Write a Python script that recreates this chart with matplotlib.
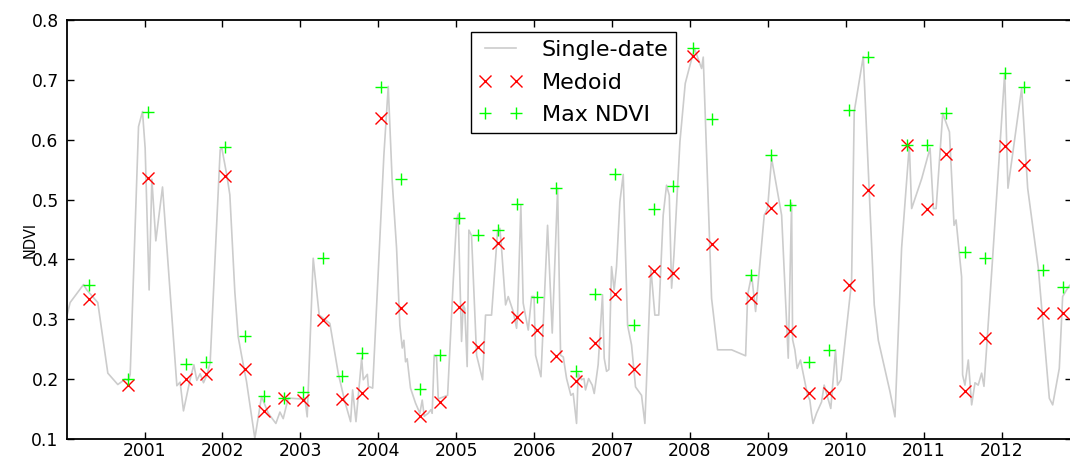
import numpy as np
import matplotlib.pyplot as plt
from datetime import date

# single-date NDVI series (decimal years)
single_t = [2000.003, 2000.045, 2000.217, 2000.259, 2000.40, 2000.529, 2000.657, 2000.751, 2000.794, 2000.816,
            2000.923, 2000.974, 2001.008, 2001.059, 2001.094, 2001.145, 2001.231, 2001.415, 2001.457, 2001.50,
            2001.586, 2001.633, 2001.671, 2001.714, 2001.757, 2001.80, 2001.842, 2001.971, 2001.992, 2002.056,
            2002.095, 2002.159, 2002.202, 2002.245, 2002.309, 2002.416, 2002.502, 2002.588, 2002.686, 2002.738,
            2002.78, 2002.844, 2002.887, 2002.994, 2003.058, 2003.088, 2003.165, 2003.242, 2003.379, 2003.486,
            2003.572, 2003.645, 2003.671, 2003.714, 2003.787, 2003.808, 2003.86, 2003.872, 2003.928, 2004.072,
            2004.128, 2004.179, 2004.235, 2004.277, 2004.308, 2004.329, 2004.35, 2004.371, 2004.414, 2004.478,
            2004.534, 2004.564, 2004.59, 2004.641, 2004.676, 2004.692, 2004.718, 2004.748, 2004.77, 2004.89,
            2004.962, 2005.005, 2005.026, 2005.069, 2005.09, 2005.11, 2005.141, 2005.163, 2005.197, 2005.262,
            2005.339, 2005.377, 2005.454, 2005.531, 2005.561, 2005.582, 2005.634, 2005.668, 2005.732, 2005.775,
            2005.788, 2005.83, 2005.86, 2005.925, 2005.968, 2006.0, 2006.019, 2006.088, 2006.173, 2006.233,
            2006.302, 2006.34, 2006.375, 2006.417, 2006.472, 2006.502, 2006.545, 2006.566, 2006.609, 2006.64,
            2006.66, 2006.7, 2006.746, 2006.772, 2006.822, 2006.878, 2006.9, 2006.93, 2006.96, 2006.994,
            2007.028, 2007.058, 2007.101, 2007.144, 2007.2, 2007.251, 2007.302, 2007.379, 2007.422, 2007.499,
            2007.55, 2007.6, 2007.657, 2007.7, 2007.735, 2007.765, 2007.795, 2007.872, 2007.94, 2008.018,
            2008.06, 2008.15, 2008.171, 2008.278, 2008.355, 2008.535, 2008.715, 2008.741, 2008.792, 2008.843,
            2008.954, 2008.997, 2009.048, 2009.177, 2009.262, 2009.305, 2009.318, 2009.347, 2009.377, 2009.419,
            2009.51, 2009.539, 2009.56, 2009.58, 2009.625, 2009.69, 2009.723, 2009.753, 2009.808, 2009.869,
            2009.895, 2009.938, 2010.075, 2010.109, 2010.225, 2010.366, 2010.418, 2010.568, 2010.632, 2010.717,
            2010.816, 2010.846, 2010.975, 2011.082, 2011.125, 2011.16, 2011.245, 2011.331, 2011.39, 2011.416,
            2011.487, 2011.5, 2011.53, 2011.573, 2011.616, 2011.659, 2011.7, 2011.744, 2011.774, 2011.808,
            2011.885, 2012.04, 2012.082, 2012.258, 2012.335, 2012.472, 2012.613, 2012.656, 2012.741, 2012.784,
            2012.857, 2012.9]
single_ndvi = [0.305, 0.328, 0.358, 0.349, 0.328, 0.21, 0.191, 0.200, 0.198, 0.208,
               0.622, 0.647, 0.586, 0.349, 0.534, 0.431, 0.521, 0.189, 0.195, 0.147,
               0.200, 0.224, 0.198, 0.209, 0.194, 0.207, 0.227, 0.583, 0.586, 0.541,
               0.508, 0.346, 0.271, 0.240, 0.196, 0.101, 0.171, 0.143, 0.126, 0.145,
               0.134, 0.168, 0.168, 0.167, 0.168, 0.137, 0.402, 0.307, 0.293, 0.21,
               0.162, 0.129, 0.182, 0.129, 0.235, 0.199, 0.208, 0.188, 0.185, 0.574,
               0.689, 0.53, 0.419, 0.29, 0.252, 0.265, 0.229, 0.234, 0.185, 0.16,
               0.143, 0.165, 0.138, 0.143, 0.149, 0.143, 0.24, 0.237, 0.167, 0.173,
               0.363, 0.466, 0.475, 0.263, 0.324, 0.318, 0.221, 0.449, 0.44, 0.24,
               0.199, 0.307, 0.307, 0.446, 0.452, 0.419, 0.324, 0.338, 0.313, 0.285,
               0.307, 0.491, 0.327, 0.282, 0.338, 0.338, 0.24, 0.204, 0.457, 0.277,
               0.519, 0.24, 0.237, 0.201, 0.173, 0.176, 0.126, 0.21, 0.199, 0.201,
               0.182, 0.201, 0.19, 0.176, 0.224, 0.341, 0.235, 0.213, 0.216, 0.388,
               0.349, 0.388, 0.496, 0.542, 0.29, 0.257, 0.187, 0.173, 0.126, 0.385,
               0.307, 0.307, 0.474, 0.524, 0.507, 0.352, 0.407, 0.597, 0.694, 0.733,
               0.752, 0.719, 0.738, 0.335, 0.249, 0.249, 0.239, 0.341, 0.374, 0.313,
               0.474, 0.485, 0.569, 0.474, 0.235, 0.494, 0.266, 0.249, 0.218, 0.232,
               0.173, 0.165, 0.143, 0.126, 0.143, 0.162, 0.19, 0.176, 0.151, 0.249,
               0.19, 0.199, 0.363, 0.647, 0.739, 0.324, 0.265, 0.179, 0.137, 0.419,
               0.591, 0.485, 0.535, 0.586, 0.485, 0.485, 0.644, 0.613, 0.457, 0.466,
               0.371, 0.207, 0.19, 0.232, 0.157, 0.194, 0.19, 0.21, 0.188, 0.252,
               0.402, 0.711, 0.519, 0.686, 0.519, 0.385, 0.168, 0.157, 0.218, 0.338,
               0.354, 0.36]

# composite dates
composite_dates = ['2000-04-15', '2000-10-15', '2001-01-15', '2001-07-15', '2001-10-15',
                   '2002-01-15', '2002-04-15', '2002-07-15', '2002-10-15',
                   '2003-01-15', '2003-04-15', '2003-07-15', '2003-10-15',
                   '2004-01-15', '2004-04-15', '2004-07-15', '2004-10-15',
                   '2005-01-15', '2005-04-15', '2005-07-15', '2005-10-15',
                   '2006-01-15', '2006-04-15', '2006-07-15', '2006-10-15',
                   '2007-01-15', '2007-04-15', '2007-07-15', '2007-10-15',
                   '2008-01-15', '2008-04-15', '2008-10-15',
                   '2009-01-15', '2009-04-15', '2009-07-15', '2009-10-15',
                   '2010-01-15', '2010-04-15', '2010-10-15',
                   '2011-01-15', '2011-04-15', '2011-07-15', '2011-10-15',
                   '2012-01-15', '2012-04-15', '2012-07-15', '2012-10-15']
medoid = [0.334, 0.191, 0.536, 0.201, 0.209,
          0.539, 0.217, 0.146, 0.168,
          0.165, 0.299, 0.167, 0.177,
          0.637, 0.319, 0.138, 0.162,
          0.320, 0.253, 0.428, 0.303,
          0.282, 0.238, 0.197, 0.261,
          0.343, 0.217, 0.381, 0.377,
          0.740, 0.425, 0.335,
          0.486, 0.281, 0.177, 0.177,
          0.358, 0.516, 0.591,
          0.484, 0.576, 0.181, 0.269,
          0.590, 0.558, 0.310, 0.310]
max_ndvi = [0.358, 0.201, 0.647, 0.225, 0.229,
            0.587, 0.272, 0.172, 0.168,
            0.179, 0.402, 0.205, 0.244,
            0.688, 0.534, 0.183, 0.240,
            0.469, 0.441, 0.450, 0.493,
            0.338, 0.519, 0.213, 0.342,
            0.543, 0.290, 0.484, 0.523,
            0.754, 0.634, 0.374,
            0.574, 0.491, 0.228, 0.249,
            0.649, 0.738, 0.591,
            0.591, 0.644, 0.412, 0.403,
            0.711, 0.688, 0.383, 0.354]

years = list(range(2001, 2013))


def decimal_year(s):
    d = date.fromisoformat(s)
    start = date(d.year, 1, 1)
    return d.year + (d - start).days / 365.25


comp_t = [decimal_year(s) for s in composite_dates]

fig = plt.figure(figsize=(10.7, 4.59), dpi=100)
ax = fig.add_axes([67 / 1070, 20 / 459, 1005 / 1070, 419 / 459])

ax.plot(single_t, single_ndvi, color='0.8', lw=1.2, label='Single-date')
ax.plot(comp_t, medoid, 'x', color='#ff0000', ms=9, mew=1.0, label='Medoid')
ax.plot(comp_t, max_ndvi, '+', color='#00ff00', ms=9, mew=1.0, label='Max NDVI')

ax.set_xlim(2000.005, 2012.904)
ax.set_ylim(0.1, 0.8)
ax.set_xticks(years)
ax.set_xticklabels([str(y) for y in years])
ax.set_yticks(np.arange(0.1, 0.81, 0.1))
ax.set_yticklabels(['%.1f' % v for v in np.arange(0.1, 0.81, 0.1)])
ax.tick_params(direction='in', top=True, right=True, length=5, width=1,
               labelsize=12.3)
ax.tick_params(axis='x', pad=2.5)
ax.tick_params(axis='y', pad=6)
ax.set_ylabel('NDVI', fontsize=10.5)
ax.yaxis.set_label_coords(-0.029, 0.475)
for s in ax.spines.values():
    s.set_linewidth(1.3)

leg = ax.legend(loc='upper center', bbox_to_anchor=(0.504, 0.971), borderaxespad=0,
                numpoints=2, fontsize=16, fancybox=False, framealpha=1,
                handlelength=2.0, handletextpad=0.85, labelspacing=0.57, borderpad=0.35)
leg.get_frame().set_edgecolor('black')
leg.get_frame().set_linewidth(1.0)

fig.savefig('out.png', dpi=100)
